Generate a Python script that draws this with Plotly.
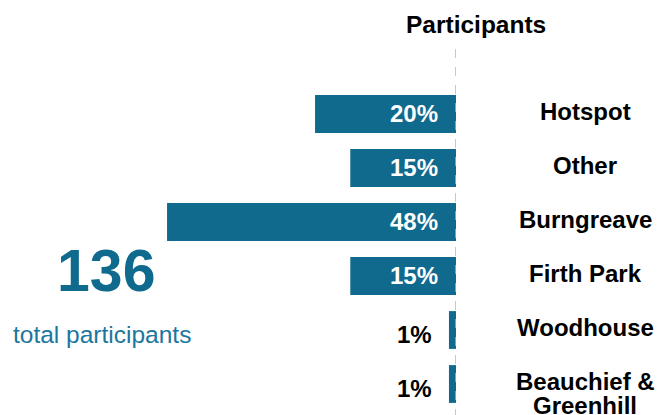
import plotly.graph_objects as go

categories = ["Hotspot", "Other", "Burngreave", "Firth Park", "Woodhouse", "Beauchief &<br>Greenhill"]
bar_lengths = [20, 15, 41, 15, 1, 1]
pct_labels = ["20%", "15%", "48%", "15%", "1%", "1%"]
total_participants = "136"
total_caption = "total participants"
chart_title = "Participants"

TEAL = "#0F6A8E"
FONT = "Liberation Sans, Arial, sans-serif"

W, H = 664, 415
plot_left, plot_right = 0, 456
plot_top, plot_bottom = 86.7, 411
ph = plot_bottom - plot_top

def py(pix):
    return (plot_bottom - pix) / ph

def px(pix):
    return (pix - plot_left) / (plot_right - plot_left)

fig = go.Figure()
fig.add_trace(go.Bar(
    x=bar_lengths, y=categories, orientation="h",
    marker=dict(color=TEAL, line=dict(width=0)),
    hoverinfo="skip", showlegend=False,
))

annotations = []
for cat, val, lab in zip(categories, bar_lengths, pct_labels):
    if val >= 5:
        annotations.append(dict(x=0, y=cat, xref="x", yref="y", text=f"<b>{lab}</b>",
                                showarrow=False, xanchor="right", xshift=-16, yshift=1,
                                font=dict(family=FONT, size=24, color="white")))
    else:
        annotations.append(dict(x=val, y=cat, xref="x", yref="y", text=f"<b>{lab}</b>",
                                showarrow=False, xanchor="right", xshift=-15, yshift=-4,
                                font=dict(family=FONT, size=24, color="black")))
    lines = cat.split("<br>")
    for i, line in enumerate(lines):
        annotations.append(dict(x=px(585), y=cat, xref="paper", yref="y", text=f"<b>{line}</b>",
                                showarrow=False, xanchor="center", yanchor="middle",
                                yshift=3 - 24 * i,
                                font=dict(family=FONT, size=24, color="black")))

annotations.append(dict(x=px(476), y=py(24), xref="paper", yref="paper", text=f"<b>{chart_title}</b>",
                        showarrow=False, xanchor="center", yanchor="middle",
                        font=dict(family=FONT, size=24.5, color="black")))
annotations.append(dict(x=px(105.5), y=py(271), xref="paper", yref="paper", text=f"<b>{total_participants}</b>",
                        showarrow=False, xanchor="center", yanchor="middle",
                        font=dict(family=FONT, size=59, color=TEAL)))
annotations.append(dict(x=px(101.5), y=py(334), xref="paper", yref="paper", text=total_caption,
                        showarrow=False, xanchor="center", yanchor="middle",
                        font=dict(family=FONT, size=24.5, color="#1C76A0")))

fig.add_shape(type="line", xref="x", yref="paper", x0=0, x1=0, y0=py(418), y1=py(48),
              line=dict(color="#B5B5B5", width=1.5, dash="dash"), layer="above")

fig.update_layout(
    width=W, height=H,
    margin=dict(l=plot_left, r=W - plot_right, t=plot_top, b=H - plot_bottom, pad=0),
    paper_bgcolor="white", plot_bgcolor="white",
    bargap=0.3,
    xaxis=dict(range=[64.7, 0], visible=False, fixedrange=True),
    yaxis=dict(autorange="reversed", visible=False, fixedrange=True),
    annotations=annotations,
)

fig.write_html("out.html")
